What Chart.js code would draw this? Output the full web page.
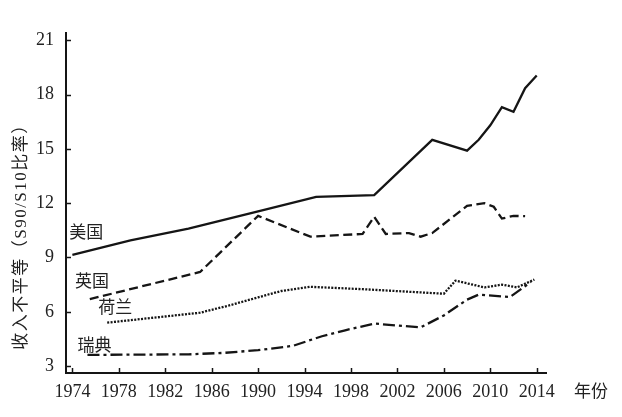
<!DOCTYPE html>
<html>
<head>
<meta charset="utf-8">
<script src="https://cdn.jsdelivr.net/npm/chart.js@4"></script>
<style>
  html, body { margin: 0; padding: 0; background: #fff; }
  #wrap { width: 622px; height: 417px; }
</style>
</head>
<body>
<div id="wrap"><canvas id="ineqChart"></canvas></div>
<script>
const usYears = [1974, 1979, 1984, 1990, 1995, 2000, 2005, 2008, 2009, 2010, 2011, 2012, 2013, 2014];
const usValues = [9.15, 9.95, 10.6, 11.55, 12.35, 12.45, 15.5, 14.9, 15.5, 16.3, 17.3, 17.05, 18.35, 19.05];

const ukYears = [1975.5, 1985, 1990, 1994.5, 1999, 2000, 2001, 2003, 2004, 2005, 2008, 2009.5, 2010.3, 2011, 2012, 2013];
const ukValues = [6.7, 8.2, 11.3, 10.15, 10.3, 11.25, 10.3, 10.35, 10.15, 10.35, 11.85, 12.0, 11.8, 11.15, 11.3, 11.28];

const nlYears = [1977, 1985, 1987.5, 1990, 1992, 1994.5, 1999, 2006, 2007, 2009.5, 2011, 2012.3, 2013.8];
const nlValues = [5.4, 5.95, 6.35, 6.8, 7.15, 7.38, 7.25, 7.0, 7.72, 7.35, 7.5, 7.35, 7.78];

const seYears = [1975.3, 1984, 1987, 1990, 1993, 1995.5, 1997.5, 2000, 2004, 2006, 2008, 2009, 2011.7, 2013.5];
const seValues = [3.62, 3.65, 3.73, 3.88, 4.12, 4.65, 4.98, 5.35, 5.14, 5.8, 6.67, 6.95, 6.82, 7.65];

const xTicks = [1974, 1978, 1982, 1986, 1990, 1994, 1998, 2002, 2006, 2010, 2014];
const yTicks = [3, 6, 9, 12, 15, 18, 21];

const labelNames = ['美国', '英国', '荷兰', '瑞典'];
const labelX = [1975.2, 1975.7, 1977.7, 1975.9];
const labelY = [10.3, 7.6, 6.2, 4.1];

const yTitle = '收入不平等（S90/S10比率）';
const xTitle = '年份';

const ink = '#151515';
const fontFam = "'Liberation Serif', 'Noto Sans CJK SC', serif";

function pts(xs, ys) {
    return xs.map((x, i) => ({ x: x, y: ys[i] }));
}

function series(label, xs, ys, dash) {
    return {
        label: label,
        data: pts(xs, ys),
        borderColor: ink,
        borderWidth: 2.3,
        borderDash: dash,
        pointRadius: 0,
        tension: 0,
        fill: false
    };
}

// inward ticks, axis titles and the country labels
const extras = {
    id: 'extras',
    afterDraw(chart) {
        const ctx = chart.ctx;
        const xs = chart.scales.x, ys = chart.scales.y;
        const area = chart.chartArea;
        ctx.save();
        ctx.strokeStyle = ink;
        ctx.lineWidth = 1.5;
        xTicks.forEach(v => {
            const px = Math.round(xs.getPixelForValue(v)) + 0.5;
            ctx.beginPath();
            ctx.moveTo(px, area.bottom);
            ctx.lineTo(px, area.bottom - 5);
            ctx.stroke();
        });
        yTicks.forEach(v => {
            const py = Math.round(ys.getPixelForValue(v)) + 0.5;
            ctx.beginPath();
            ctx.moveTo(area.left, py);
            ctx.lineTo(area.left + 5, py);
            ctx.stroke();
        });

        ctx.fillStyle = '#222';
        ctx.textAlign = 'center';
        ctx.textBaseline = 'middle';
        ctx.font = "17px " + fontFam;
        labelNames.forEach((name, i) => {
            ctx.fillText(name, xs.getPixelForValue(labelX[i]), ys.getPixelForValue(labelY[i]));
        });

        ctx.fillText(xTitle, area.right + 45, area.bottom + 20);

        ctx.translate(22, ys.getPixelForValue(10.38));
        ctx.rotate(-Math.PI / 2);
        ctx.font = "17px " + fontFam;
        ctx.letterSpacing = '1.5px';
        ctx.fillText(yTitle, 0, 0);
        ctx.restore();
    }
};

new Chart(document.getElementById('ineqChart').getContext('2d'), {
    type: 'line',
    data: {
        datasets: [
            series('美国', usYears, usValues, []),
            series('英国', ukYears, ukValues, [9, 4.5]),
            series('荷兰', nlYears, nlValues, [2, 1.4]),
            series('瑞典', seYears, seValues, [12, 4, 3, 4])
        ]
    },
    options: {
        responsive: true,
        maintainAspectRatio: false,
        animation: false,
        layout: { padding: { top: 33, right: 76, left: 0, bottom: 0 } },
        plugins: {
            legend: { display: false },
            tooltip: { enabled: false }
        },
        scales: {
            x: {
                type: 'linear',
                min: 1973.45,
                max: 2014.8,
                afterBuildTicks: s => { s.ticks = xTicks.map(v => ({ value: v })); },
                afterFit: s => { s.height = 44; },
                grid: { display: false, drawTicks: false },
                border: { display: true, color: ink, width: 2 },
                ticks: {
                    color: '#222',
                    font: { family: fontFam, size: 18 },
                    padding: 8,
                    maxRotation: 0,
                    autoSkip: false,
                    callback: v => String(v)
                }
            },
            y: {
                min: 2.62,
                max: 21.4,
                afterBuildTicks: s => { s.ticks = yTicks.map(v => ({ value: v })); },
                afterFit: s => { s.width = 66; },
                grid: { display: false, drawTicks: false },
                border: { display: true, color: ink, width: 2 },
                ticks: {
                    color: '#222',
                    font: { family: fontFam, size: 18 },
                    padding: 12
                }
            }
        }
    },
    plugins: [extras]
});
</script>
</body>
</html>
